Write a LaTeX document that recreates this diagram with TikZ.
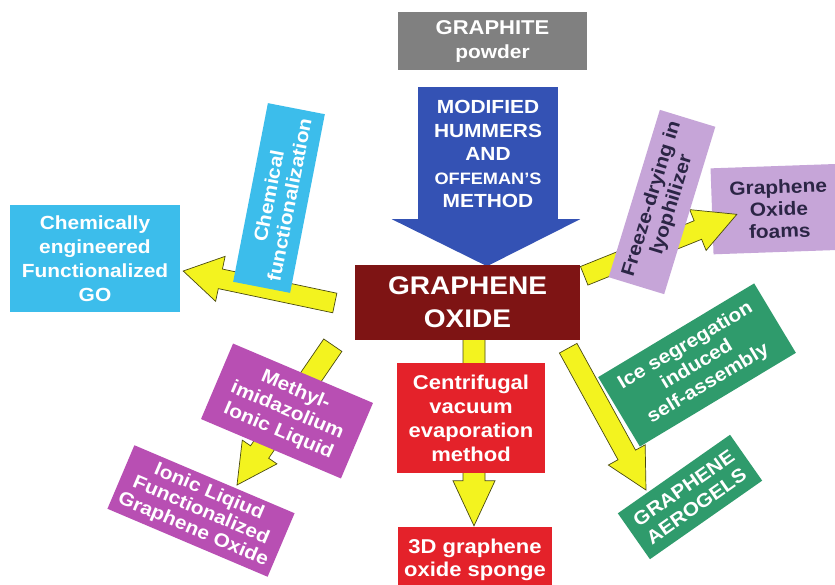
\documentclass[tikz,border=0pt]{standalone}
\usepackage{fontspec}
\setmainfont{Liberation Sans}[FakeStretch=1.1]
\usetikzlibrary{calc}
\pgfdeclarelayer{bg}
\pgfdeclarelayer{mid}
\pgfsetlayers{bg,mid,main}
\definecolor{cgray}{HTML}{808080}
\definecolor{cblue}{HTML}{3452B4}
\definecolor{cdred}{HTML}{7E1414}
\definecolor{ccyan}{HTML}{3CBDEB}
\definecolor{clav}{HTML}{C6A5D8}
\definecolor{cdark}{HTML}{2B2545}
\definecolor{cmag}{HTML}{B84FB3}
\definecolor{cred}{HTML}{E4222A}
\definecolor{cgreen}{HTML}{2F9B6C}
\definecolor{cyel}{HTML}{F3F31F}
\definecolor{cyedge}{HTML}{4A4A10}
\tikzset{
  box/.style={draw=none, inner sep=1pt, align=center, text=white},
  yarrow/.style={fill=cyel, draw=cyedge, line width=0.7pt, line join=miter},
}
% #1 tail, #2 tip, #3 half shaft width, #4 half head width, #5 head length
\newcommand\yarr[5]{%
  \coordinate (fah) at ($(#2)!#5!(#1)$);
  \path[yarrow] ($(#1)!#3!90:(#2)$) -- ($(fah)!#3!90:(#2)$) -- ($(fah)!#4!90:(#2)$)
    -- (#2) -- ($(fah)!#4!-90:(#2)$) -- ($(fah)!#3!-90:(#2)$) -- ($(#1)!#3!-90:(#2)$) -- cycle;
}
\begin{document}
\begin{tikzpicture}[x=1pt,y=-1pt]
\useasboundingbox (0,0) rectangle (835,585);
\begin{pgfonlayer}{bg}
\fill[white] (0,0) rectangle (835,585);
\begin{scope}
\clip (0,0) rectangle (835,585);
\node[box,fill=clav,text=cdark,rotate=2,minimum width=134pt,minimum height=86pt,font=\bfseries\fontsize{19}{22}\selectfont] (foam) at (779,209) {Graphene\\Oxide\\foams};
\end{scope}
\end{pgfonlayer}
\begin{scope}
\clip (0,0) rectangle (835,585);
% source and method
\node[box,fill=cgray,minimum width=189pt,minimum height=58pt,font=\bfseries\fontsize{20}{24}\selectfont] (graphite) at (492.5,41) {GRAPHITE\\{\fontsize{19}{24}\selectfont powder}};
\node[box,fill=cblue,minimum width=140pt,minimum height=134pt,font=\bfseries\fontsize{19}{23.5}\selectfont] (hum) at (488,154) {MODIFIED\\HUMMERS\\AND\\{\fontsize{16.5}{23.5}\selectfont OFFEMAN'S}\\METHOD};
\fill[cblue] ($(hum.south west)+(-26,-2)$) -- ($(hum.south east)+(22,-2)$) -- ($(hum.south)+(-1,45)$) -- cycle;
% centre
\node[box,fill=cdred,minimum width=225pt,minimum height=75pt,font=\bfseries\fontsize{25.5}{33}\selectfont] (go) at (467.5,302.5) {GRAPHENE\\OXIDE};
% left
\node[box,fill=ccyan,minimum width=170pt,minimum height=107pt,font=\bfseries\fontsize{19}{24}\selectfont] (chem) at (95,258.5) {Chemically\\engineered\\Functionalized\\GO};
\node[box,fill=ccyan,rotate=79,minimum width=182pt,minimum height=58pt,font=\bfseries\fontsize{19}{21}\selectfont] (cf) at (279,198) {Chemical\\functionalization};
% right top
\node[box,fill=clav,text=cdark,rotate=73,minimum width=175pt,minimum height=58pt,font=\bfseries\fontsize{19}{21}\selectfont] (fd) at (662,202) {Freeze-drying in\\lyophilizer};
% lower left
\node[box,fill=cmag,rotate=-23,minimum width=152pt,minimum height=82pt,font=\bfseries\fontsize{19}{22}\selectfont] (mim) at (287,411) {Methyl-\\imidazolium\\Ionic Liquid};
\node[box,fill=cmag,rotate=-23,minimum width=174pt,minimum height=69pt,font=\bfseries\fontsize{19}{20.5}\selectfont] (il) at (201,511) {Ionic Liqiud\\Functionalized\\Graphene Oxide};
% bottom
\node[box,fill=cred,minimum width=148pt,minimum height=110pt,font=\bfseries\fontsize{20}{24}\selectfont] (cve) at (471,418) {Centrifugal\\vacuum\\evaporation\\method};
\node[box,fill=cred,minimum width=154pt,minimum height=66pt,font=\bfseries\fontsize{20}{23}\selectfont] (sp) at (475,560) {3D graphene\\oxide sponge};
% lower right
\node[box,fill=cgreen,rotate=31,minimum width=182pt,minimum height=81pt,font=\bfseries\fontsize{19}{22}\selectfont] (ice) at (697,365) {Ice segregation\\induced\\self-assembly};
\node[box,fill=cgreen,rotate=35,minimum width=137pt,minimum height=56pt,font=\bfseries\fontsize{19}{22}\selectfont] (aero) at (690,497) {GRAPHENE\\AEROGELS};
\end{scope}
% yellow connectors (behind the boxes, over the foams box)
\begin{pgfonlayer}{mid}
\coordinate (s1) at ($(go.west)+(-20,0.5)$);
\coordinate (t1) at ($(chem.east)+(3,12.5)$);
\yarr{s1}{t1}{10pt}{23pt}{38pt}
\coordinate (s2) at ($(go.north east)+(4,11)$);
\coordinate (t2) at ($(foam.west)+(25,3)$);
\yarr{s2}{t2}{10pt}{22pt}{42pt}
\coordinate (s3) at ($(go.south west)+(-22,5)$);
\coordinate (t3) at (237,485);
\yarr{s3}{t3}{11pt}{21pt}{40pt}
\coordinate (s4) at ($(go.south)+(6.5,-2)$);
\coordinate (t4) at ($(sp.north)+(-1,-1)$);
\yarr{s4}{t4}{11pt}{21pt}{45pt}
\coordinate (s5) at ($(go.south east)+(-12,8)$);
\coordinate (t5) at (646,490);
\yarr{s5}{t5}{10pt}{21pt}{40pt}
\end{pgfonlayer}
\end{tikzpicture}
\end{document}
